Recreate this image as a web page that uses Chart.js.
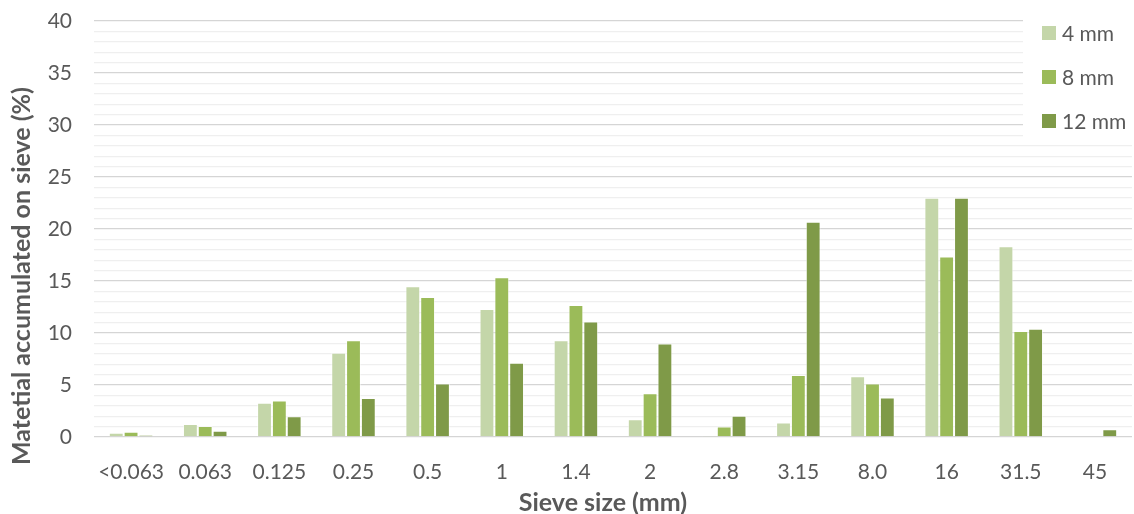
<!DOCTYPE html>
<html>
<head>
<meta charset="utf-8">
<script src="https://cdn.jsdelivr.net/npm/chart.js@4/dist/chart.umd.min.js"></script>
<style>
  html, body { margin: 0; padding: 0; background: #ffffff; }
  #wrap { width: 1134px; height: 514px; }
</style>
</head>
<body>
<div id="wrap"><canvas id="chart" width="1134" height="514"></canvas></div>
<script>
// Sieve sizes (mm) on the category axis
const sieveSizes = ['<0.063', '0.063', '0.125', '0.25', '0.5', '1', '1.4', '2', '2.8', '3.15', '8.0', '16', '31.5', '45'];

// Material retained on each sieve (%), one array per maximum grain size
const seriesNames = ['4 mm', '8 mm', '12 mm'];
const retained4mm  = [0.4, 1.25, 3.3, 8.1, 14.5, 12.3, 9.3, 1.7, 0.15, 1.4, 5.85, 23.0, 18.35, 0];
const retained8mm  = [0.5, 1.05, 3.5, 9.3, 13.45, 15.35, 12.7, 4.2, 1.0, 5.95, 5.15, 17.35, 10.2, 0];
const retained12mm = [0.2, 0.6, 2.0, 3.75, 5.15, 7.15, 11.1, 9.0, 2.05, 20.7, 3.8, 23.0, 10.4, 0.75];

// Y axis range and labelled ticks
const yMin = 0, yMax = 40, yLabelStep = 5;

const colors = ['#c4d6a9', '#9bbb59', '#7f9a48'];
const textColor = '#595959';
const fontFamily = 'Lato, "Open Sans", sans-serif';

const xTitle = 'Sieve size (mm)';
const yTitle = 'Matetial accumulated on sieve (%)';

// Titles and the legend panel drawn on top of the plot
const overlayPlugin = {
  id: 'overlay',
  beforeDatasetsDraw(chart) {
    const ctx = chart.ctx;
    ctx.save();
    ctx.fillStyle = '#ffffff';
    ctx.fillRect(1023, 0, 111, 141);
    ctx.restore();
  },
  afterDraw(chart) {
    const ctx = chart.ctx;
    ctx.save();
    ctx.fillStyle = textColor;
    ctx.font = 'bold 25px ' + fontFamily;
    ctx.textAlign = 'center';
    ctx.textBaseline = 'middle';
    ctx.fillText(xTitle, 603, 503);
    ctx.translate(22, 276);
    ctx.rotate(-Math.PI / 2);
    ctx.fillText(yTitle, 0, 0);
    ctx.restore();

    // Legend
    ctx.save();
    ctx.font = '21px ' + fontFamily;
    ctx.textAlign = 'left';
    ctx.textBaseline = 'middle';
    seriesNames.forEach((name, i) => {
      const cy = 33 + i * 44;
      ctx.fillStyle = colors[i];
      ctx.fillRect(1042, cy - 7, 14, 14);
      ctx.fillStyle = textColor;
      ctx.fillText(name, 1062, cy + 1);
    });
    ctx.restore();
  }
};

const seriesData = [retained4mm, retained8mm, retained12mm];

new Chart(document.getElementById('chart'), {
  type: 'bar',
  data: {
    labels: sieveSizes,
    datasets: seriesNames.map((name, i) => ({
      label: name,
      data: seriesData[i],
      backgroundColor: colors[i],
      borderColor: 'rgba(255,255,255,0.55)',
      borderWidth: 1,
      barPercentage: 1,
      categoryPercentage: 0.6
    }))
  },
  options: {
    responsive: false,
    animation: false,
    devicePixelRatio: 1,
    layout: { padding: { top: 21, right: 2, left: 0, bottom: 0 } },
    plugins: {
      legend: { display: false },
      tooltip: { enabled: false }
    },
    scales: {
      x: {
        grid: { display: false, drawTicks: false },
        border: { display: false },
        ticks: {
          color: textColor,
          font: { family: fontFamily, size: 21 },
          padding: 23,
          maxRotation: 0,
          autoSkip: false
        },
        afterFit(scale) { scale.height = 77; }
      },
      y: {
        min: yMin,
        max: yMax,
        grid: {
          drawTicks: true,
          tickLength: 22,
          tickColor: 'rgba(0,0,0,0)',
          lineWidth: 1.3,
          color: (c) => (c.tick && c.tick.value % yLabelStep === 0) ? '#d5d5d5' : '#efefef'
        },
        border: { display: false },
        ticks: {
          stepSize: 1,
          autoSkip: false,
          color: textColor,
          font: { family: fontFamily, size: 21 },
          padding: 0,
          callback: (v) => (v % yLabelStep === 0 ? String(v) : '')
        },
        afterFit(scale) { scale.width = 94; }
      }
    }
  },
  plugins: [overlayPlugin]
});
</script>
</body>
</html>
